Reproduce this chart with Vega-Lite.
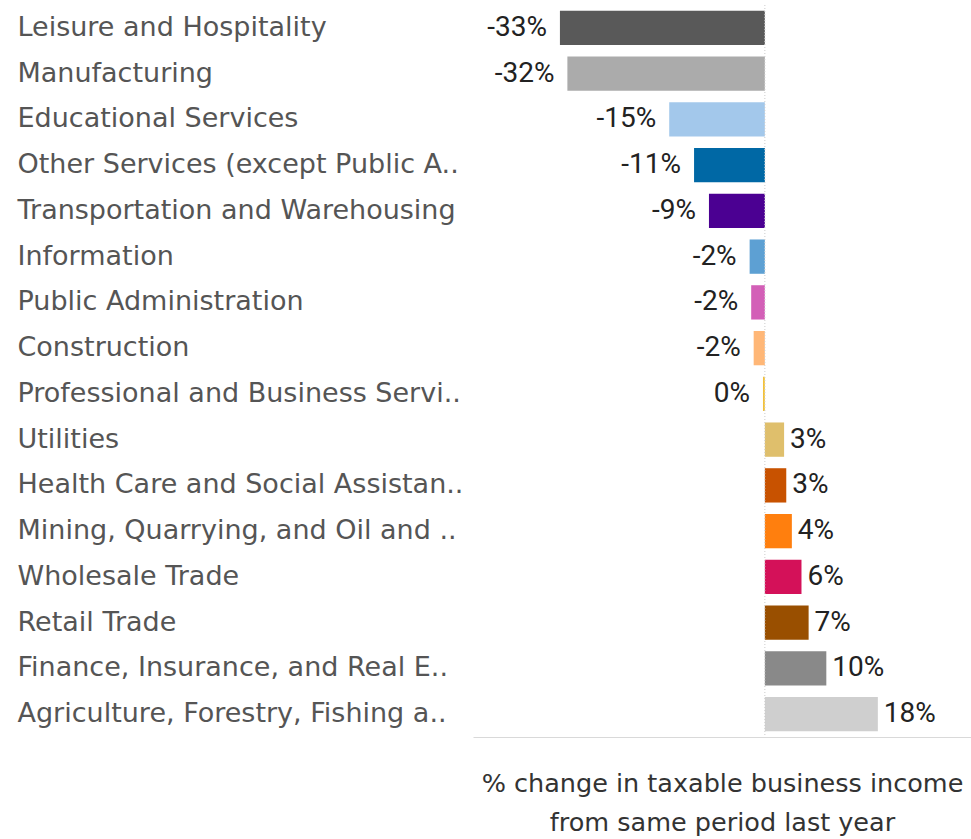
{
  "$schema": "https://vega.github.io/schema/vega-lite/v6.json",
  "autosize": {"type": "none"},
  "width": 498,
  "height": 732,
  "padding": {"left": 473, "top": 5, "right": 0, "bottom": 102},
  "background": "white",
  "config": {"view": {"stroke": null}},
  "data": {
    "values": [
      {"industry": "Leisure and Hospitality", "value": -33.0, "label": "-33%", "color": "#595959"},
      {"industry": "Manufacturing", "value": -31.8, "label": "-32%", "color": "#ababab"},
      {"industry": "Educational Services", "value": -15.4, "label": "-15%", "color": "#a3c8eb"},
      {"industry": "Other Services (except Public A..", "value": -11.4, "label": "-11%", "color": "#0068a5"},
      {"industry": "Transportation and Warehousing", "value": -9.0, "label": "-9%", "color": "#4b0092"},
      {"industry": "Information", "value": -2.45, "label": "-2%", "color": "#5da0d3"},
      {"industry": "Public Administration", "value": -2.2, "label": "-2%", "color": "#d35fb7"},
      {"industry": "Construction", "value": -1.8, "label": "-2%", "color": "#ffb777"},
      {"industry": "Professional and Business Servi..", "value": -0.3, "label": "0%", "color": "#f2c13a"},
      {"industry": "Utilities", "value": 3.1, "label": "3%", "color": "#dfbf6c"},
      {"industry": "Health Care and Social Assistan..", "value": 3.45, "label": "3%", "color": "#c85200"},
      {"industry": "Mining, Quarrying, and Oil and ..", "value": 4.35, "label": "4%", "color": "#ff7f0e"},
      {"industry": "Wholesale Trade", "value": 5.9, "label": "6%", "color": "#d41159"},
      {"industry": "Retail Trade", "value": 7.05, "label": "7%", "color": "#994f00"},
      {"industry": "Finance, Insurance, and Real E..", "value": 9.9, "label": "10%", "color": "#898989"},
      {"industry": "Agriculture, Forestry, Fishing a..", "value": 18.2, "label": "18%", "color": "#cfcfcf"}
    ]
  },
  "encoding": {
    "y": {
      "field": "industry",
      "type": "nominal",
      "sort": null,
      "scale": {"paddingInner": 0.25, "paddingOuter": 0.125},
      "axis": {
        "title": null,
        "ticks": false,
        "domain": false,
        "labelAlign": "left",
        "labelPadding": 456,
        "labelLimit": 470,
        "labelFont": "DejaVu Sans",
        "labelFontSize": 27,
        "labelColor": "#555555"
      }
    }
  },
  "layer": [
    {
      "mark": {"type": "bar"},
      "encoding": {
        "x": {
          "field": "value",
          "type": "quantitative",
          "scale": {"domain": [-47, 33.2], "nice": false, "zero": false},
          "axis": {
            "title": ["% change in taxable business income", "from same period last year"],
            "labels": false,
            "ticks": false,
            "grid": false,
            "domain": true,
            "domainColor": "#d9d9d9",
            "titleFont": "DejaVu Sans",
            "titleFontSize": 25.5,
            "titleFontWeight": "normal",
            "titleColor": "#333333",
            "titlePadding": 34,
            "titleLineHeight": 39
          }
        },
        "color": {"field": "color", "type": "nominal", "scale": null, "legend": null}
      }
    },
    {
      "data": {"values": [{"zero": 0}]},
      "mark": {"type": "rule", "color": "#cccccc", "strokeDash": [1, 2], "strokeWidth": 1},
      "encoding": {"x": {"field": "zero", "type": "quantitative"}, "y": null}
    },
    {
      "transform": [{"filter": "datum.value <= 0"}],
      "mark": {"type": "text", "align": "right", "baseline": "middle", "dx": -13, "font": "Roboto", "fontSize": 28, "color": "#222222"},
      "encoding": {
        "x": {"field": "value", "type": "quantitative"},
        "text": {"field": "label", "type": "nominal"}
      }
    },
    {
      "transform": [{"filter": "datum.value > 0"}],
      "mark": {"type": "text", "align": "left", "baseline": "middle", "dx": 6, "font": "Roboto", "fontSize": 28, "color": "#222222"},
      "encoding": {
        "x": {"field": "value", "type": "quantitative"},
        "text": {"field": "label", "type": "nominal"}
      }
    }
  ]
}
